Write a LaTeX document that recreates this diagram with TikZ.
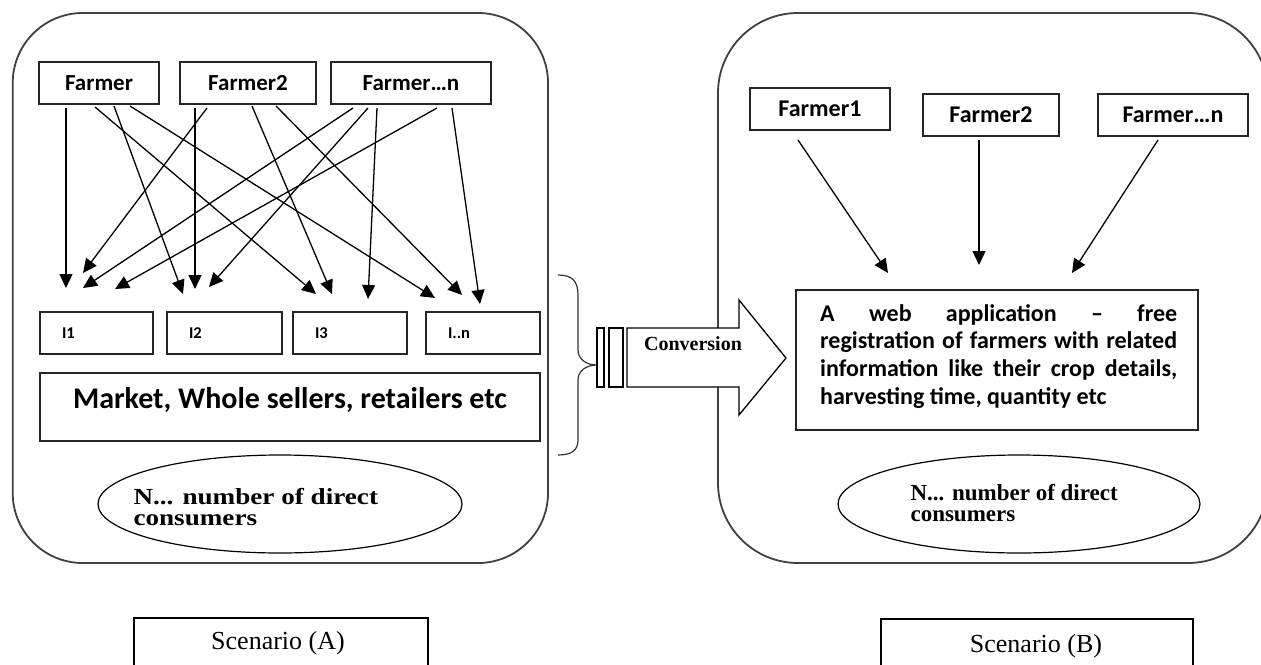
\documentclass[tikz,border=0pt]{standalone}
\usepackage{fontspec}
\setmainfont{Liberation Serif}
\newfontfamily\calfont{Carlito}
\usepackage{graphicx}
\usetikzlibrary{arrows.meta,shapes.geometric}
\begin{document}
\begin{tikzpicture}[x=1pt,y=-1pt,
  panel/.style={draw=black!75, line width=1.8pt},
  box/.style={draw=black!85, line width=1.3pt, inner sep=0pt},
  farmerbox/.style={box, font=\calfont\bfseries\fontsize{23pt}{23pt}\selectfont, text height=15pt, text depth=0pt, minimum height=42pt},
  rfarmerbox/.style={box, font=\calfont\bfseries\fontsize{24pt}{24pt}\selectfont, text height=15.5pt, text depth=0pt, minimum height=42pt},
  ibox/.style={box, font=\calfont\bfseries\fontsize{16.5pt}{16.5pt}\selectfont, align=left, inner xsep=22pt, text width=#1, minimum height=42pt},
  ell/.style={ellipse, draw=black, line width=1.2pt, inner sep=0pt},
  constext/.style={anchor=west, align=left, font=\bfseries\fontsize{23pt}{21pt}\selectfont},
  scen/.style={draw=black, line width=1.5pt, anchor=north west, minimum height=80pt},
  scentext/.style={font=\fontsize{26pt}{26pt}\selectfont},
  conn/.style={line width=1.3pt, -{Triangle[length=14pt,width=13pt]}},
]
\useasboundingbox (0,0) rectangle (1261,664);
\clip (0,0) rectangle (1261,664);
\fill[white] (0,0) rectangle (1261,664);

% panels
\draw[panel, rounded corners=70pt] (12.7,13) rectangle (548,563);
\draw[panel, rounded corners=80pt] (718,13) rectangle (1268,563);

% left farmers
\node[farmerbox, minimum width=120pt] (fa1) at (99,83) {Farmer};
\node[farmerbox, minimum width=136pt] (fa2) at (248,83) {Farmer2};
\node[farmerbox, minimum width=160pt] (fan) at (411,83) {Farmer…n};

% intermediates
\node[ibox=69pt] (i1) at (96.5,333) {I1};
\node[ibox=71pt] (i2) at (224.5,333) {I2};
\node[ibox=70pt] (i3) at (350,333) {I3};
\node[ibox=70pt] (in) at (483,333) {I..n};

\node[box, minimum width=500pt, minimum height=68pt, text height=19pt, text depth=17pt,
      font=\calfont\bfseries\fontsize{30pt}{30pt}\selectfont] (mkt) at (290,407) {Market, Whole sellers, retailers etc};

% left consumers
\node[ell, minimum width=364pt, minimum height=98pt] (ca) at (280,504) {};
\node[constext] (cat) at (130,507) {\scalebox{1.18}[1]{N... number of direct}\\\scalebox{1.18}[1]{consumers}};

% left arrows
\foreach \n/\sx/\sy/\ex/\ey in {
  a1/66/108/66/288, a2/95/107/316/294, a3/114/106/183/294, a4/130/106/435/298,
  b1/207/108/83/273, b2/195/108/195/289, b3/252/106/332/294, b4/276/106/462/295,
  c1/353/108/83/288, c2/368/108/209/287, c3/377/108/368/299, c4/437/108/115/289, c5/452/108/480/304}
{
  \coordinate (s\n) at (\sx,\sy);
  \coordinate (e\n) at (\ex,\ey);
  \draw[conn] (s\n) -- (e\n);
}

% right farmers
\node[rfarmerbox, minimum width=140pt] (rf1) at (820,109) {Farmer1};
\node[rfarmerbox, minimum width=136pt] (rf2) at (991,115) {Farmer2};
\node[rfarmerbox, minimum width=150pt] (rfn) at (1173,115) {Farmer…n};

\foreach \n/\sx/\sy/\ex/\ey in {r1/798/140/888/273, r2/979/140/979/265, r3/1158/140/1072/273}
{
  \coordinate (s\n) at (\sx,\sy);
  \coordinate (e\n) at (\ex,\ey);
  \draw[conn] (s\n) -- (e\n);
}

% web application box
\node[box, minimum width=402pt, minimum height=140pt] (web) at (997,360) {};
\node[anchor=base west, inner sep=0pt, font=\calfont\bfseries\fontsize{24pt}{27.8pt}\selectfont] (webt) at (820,321)
 {\vtop{\hsize=357pt \baselineskip=27.8pt
  \hbox to\hsize{A\hfil web\hfil application\hfil –\hfil free}
  \hbox to\hsize{registration of farmers with related}
  \hbox to\hsize{information like their crop details,}
  \hbox{harvesting time, quantity etc}}};

% right consumers
\node[ell, minimum width=362pt, minimum height=98pt] (cb) at (1019,504) {};
\node[constext] (cbt) at (907,503) {N... number of direct\\consumers};

% brace
\draw[line width=1.2pt, black!80] (558,275) .. controls (572,275) and (578,281) .. (578,295) -- (578,350)
  .. controls (578,359) and (586,365) .. (597,365)
  .. controls (586,365) and (578,371) .. (578,380) -- (578,440)
  .. controls (578,450) and (572,455) .. (558,455);

% conversion arrow
\draw[line width=1.2pt, fill=white] (597,328) rectangle (604,387);
\draw[line width=1.2pt, fill=white] (609,328) rectangle (623,387);
\draw[line width=1.3pt, fill=white, line join=miter] (627,328) -- (739,328) -- (739,300) -- (786,358) -- (739,415) -- (739,387) -- (627,387) -- cycle;
\node[font=\bfseries\fontsize{20pt}{20pt}\selectfont, inner sep=0pt] (conv) at (693,344) {Conversion};

% scenario boxes
\node[scen, minimum width=294pt] (sa) at (133,617) {};
\node[scentext] (sat) at (278,643) {Scenario (A)};
\node[scen, minimum width=312pt] (sb) at (880,618) {};
\node[scentext] (sbt) at (1036,646) {Scenario (B)};
\end{tikzpicture}
\end{document}
